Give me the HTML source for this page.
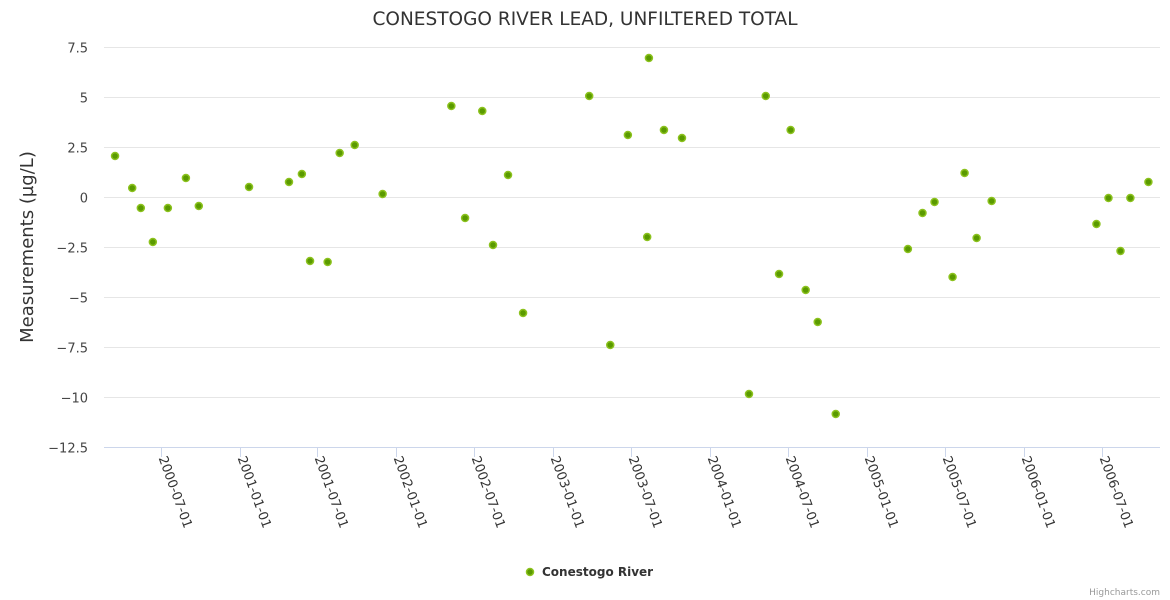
<!DOCTYPE html>
<html><head><meta charset="utf-8"><style>
body{margin:0;background:#fff;font-family:"DejaVu Sans",sans-serif}
</style></head><body>
<svg id="c" width="1170" height="600" style="display:block;font-family:'DejaVu Sans',sans-serif">
<text x="585" y="25" text-anchor="middle" font-size="18.5" fill="#333">CONESTOGO RIVER LEAD, UNFILTERED TOTAL</text>
<text transform="translate(33,247) rotate(-90)" text-anchor="middle" font-size="18" fill="#333">Measurements (µg/L)</text>
<g id="grid"></g><g id="xax"></g><g id="pts"></g>
<g>
<circle cx="530" cy="572" r="3.5" fill="#5a9a00" stroke="#8cc21e" stroke-width="1.5"/>
<text x="542" y="576" font-size="12" font-weight="bold" fill="#333">Conestogo River</text></g>
<text x="1160" y="595" text-anchor="end" font-size="9" fill="#999">Highcharts.com</text>
</svg>
<script>
const yTicks=[7.5,5,2.5,0,-2.5,-5,-7.5,-10,-12.5];
const yLabels=["7.5","5","2.5","0","−2.5","−5","−7.5","−10","−12.5"];
const xTicks=["2000-07-01","2001-01-01","2001-07-01","2002-01-01","2002-07-01","2003-01-01","2003-07-01","2004-01-01","2004-07-01","2005-01-01","2005-07-01","2006-01-01","2006-07-01"];
const dates=["2000-03-16","2000-04-25","2000-05-15","2000-06-12","2000-07-17","2000-08-28","2000-09-27","2001-01-22","2001-04-25","2001-05-25","2001-06-13","2001-07-24","2001-08-21","2001-09-25","2001-11-29","2002-05-08","2002-06-09","2002-07-19","2002-08-13","2002-09-17","2002-10-22","2003-03-25","2003-05-13","2003-06-23","2003-08-07","2003-08-11","2003-09-15","2003-10-27","2004-03-31","2004-05-09","2004-06-09","2004-07-06","2004-08-10","2004-09-07","2004-10-19","2005-04-05","2005-05-09","2005-06-06","2005-07-18","2005-08-15","2005-09-12","2005-10-17","2006-06-18","2006-07-16","2006-08-13","2006-09-05","2006-10-17"];
const values=[2.1,0.5,-0.5,-2.2,-0.5,1.0,-0.4,0.55,0.8,1.2,-3.15,-3.2,2.25,2.65,0.2,4.6,-1.0,4.35,-2.35,1.15,-5.75,5.1,-7.35,3.15,-1.95,7.0,3.4,3.0,-9.8,5.1,-3.8,3.4,-4.6,-6.2,-10.8,-2.55,-0.75,-0.2,-3.95,1.25,-2.0,-0.15,-1.3,0,-2.65,0,0.8];
const NS="http://www.w3.org/2000/svg";
const t0=Date.UTC(2000,6,1);
function xs(d){const p=d.split('-');return 160.5+(Date.UTC(+p[0],p[1]-1,+p[2])-t0)/864e5*0.4295;}
function ys(v){return 197.5-v*20;}
function mk(t,a,par){const e=document.createElementNS(NS,t);for(const k in a)e.setAttribute(k,a[k]);par.appendChild(e);return e;}
const g=document.getElementById('grid');
yTicks.forEach((v,i)=>{
 const l=mk('line',{x1:104,x2:1160,y1:ys(v),y2:ys(v),stroke:'#e6e6e6'},g);
 
 
 const t=mk('text',{x:88,y:ys(v)+5,'text-anchor':'end','font-size':13,fill:'#444'},g);
 
 
 t.textContent=yLabels[i];
});
const xa=document.getElementById('xax');
const al=mk('line',{x1:104,x2:1160,y1:447.5,y2:447.5,stroke:'#ccd6eb'},xa);


xTicks.forEach(d=>{
 const x=Math.round(xs(d))+0.5;
 const tk=mk('line',{x1:x,x2:x,y1:447,y2:457,stroke:'#ccd6eb'},xa);
 
 
 const t=mk('text',{transform:`translate(${x-3},${458}) rotate(70)`,'font-size':13,fill:'#333'},xa);
 
 
 t.textContent=d;
});
const pg=document.getElementById('pts');
dates.forEach((d,i)=>{
 const c=mk('circle',{cx:xs(d)+0.5,cy:ys(values[i])+0.5,r:3.5,fill:'#5a9a00',stroke:'#8cc21e','stroke-width':1.5},pg);
 
 
});
</script>
</body></html>
